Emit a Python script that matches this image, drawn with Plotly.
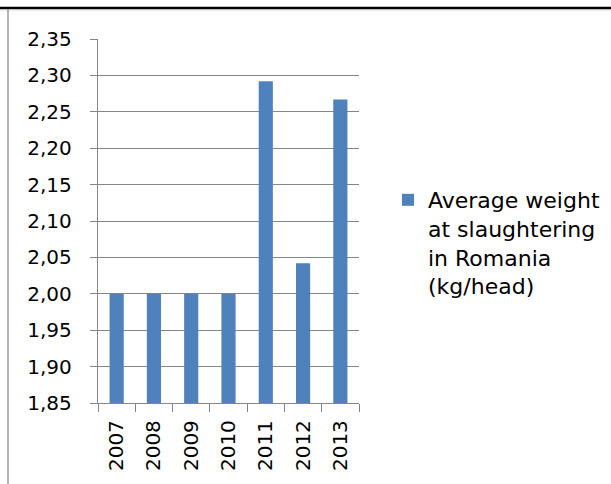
import plotly.graph_objects as go

years = ["2007", "2008", "2009", "2010", "2011", "2012", "2013"]
avg_weight = [2.00, 2.00, 2.00, 2.00, 2.292, 2.042, 2.267]
series_name = "Average weight<br>at slaughtering<br>in Romania<br>(kg/head)"
y_ticks = [1.85, 1.90, 1.95, 2.00, 2.05, 2.10, 2.15, 2.20, 2.25, 2.30, 2.35]
y_labels = ["1,85", "1,90", "1,95", "2,00", "2,05", "2,10", "2,15", "2,20", "2,25", "2,30", "2,35"]

W, H = 611, 484
L, R, T, B = 98, 252, 39, 81
pw, ph = W - L - R, H - T - B

def px(x):
    return (x - L) / pw

def py(y):
    return 1 - (y - T) / ph

FONT = "DejaVu Sans"
GRID = "#868686"

fig = go.Figure()
fig.add_trace(go.Bar(x=years, y=avg_weight, name=series_name,
                     marker=dict(color="#4F81BD", line=dict(width=0)),
                     showlegend=True))

fig.update_layout(
    width=W, height=H,
    margin=dict(l=L, r=R, t=T, b=B, autoexpand=False),
    paper_bgcolor="white", plot_bgcolor="white",
    bargap=0.62,
    font=dict(family=FONT, size=20, color="black"),
    showlegend=True,
    legend=dict(x=px(388), y=py(179), xanchor="left", yanchor="top",
                valign="top", font=dict(size=22), bgcolor="rgba(0,0,0,0)",
                tracegroupgap=0),
    xaxis=dict(type="category", showgrid=False, showline=True, linecolor=GRID,
               linewidth=1.3, ticks="outside", tickson="boundaries", ticklen=8,
               tickcolor=GRID, tickwidth=1.3, tickangle=-90,
               ticklabelstandoff=8, tickfont=dict(size=20)),
    yaxis=dict(range=[1.85, 2.35], tickvals=y_ticks, ticktext=y_labels,
               showgrid=True, gridcolor=GRID, gridwidth=1.4,
               showline=True, linecolor=GRID, linewidth=1.4,
               ticks="outside", ticklen=7, tickcolor=GRID, tickwidth=1.3,
               ticklabelstandoff=14, zeroline=False, tickfont=dict(size=20)),
    shapes=[
        dict(type="line", xref="paper", yref="paper", x0=px(0), x1=px(W),
             y0=py(8), y1=py(8), line=dict(color="black", width=2.6)),
        dict(type="line", xref="paper", yref="paper", x0=px(0), x1=px(W),
             y0=py(9.8), y1=py(9.8), line=dict(color="#BBBBBB", width=1)),
        dict(type="line", xref="paper", yref="paper", x0=px(8), x1=px(8),
             y0=py(9.5), y1=py(H), line=dict(color="#9A9A9A", width=1.5)),
    ],
    annotations=[
        dict(text=")", xref="paper", yref="paper", x=px(229), y=py(4),
             xanchor="center", yanchor="bottom", showarrow=False,
             font=dict(size=20, color="black")),
    ],
)

fig.write_html("out.html", config={"displayModeBar": False},
               post_script="document.body.style.margin='0';document.body.style.overflow='hidden';")
